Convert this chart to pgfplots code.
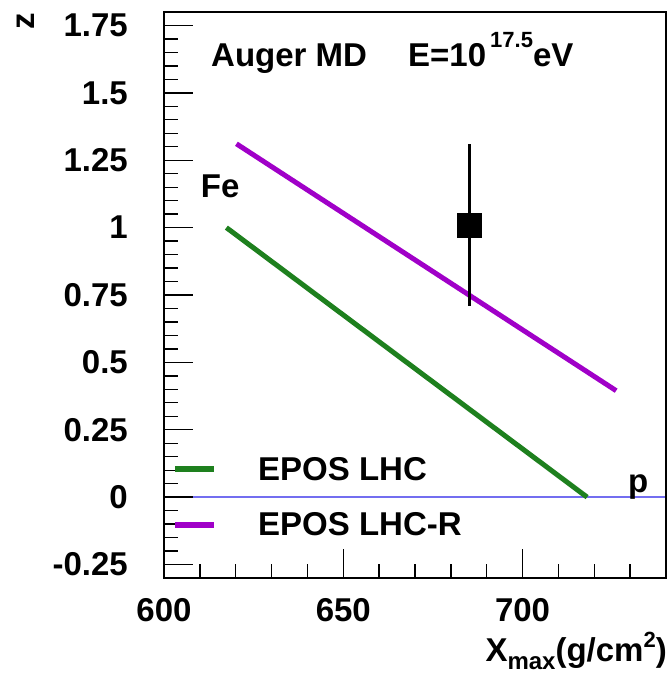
\documentclass[border=0pt]{standalone}
\usepackage{fontspec}
\setmainfont{Liberation Sans}
\usepackage{pgfplots}
\pgfplotsset{compat=1.18}
\definecolor{eposg}{RGB}{30,128,30}
\definecolor{eposr}{RGB}{160,0,200}
\definecolor{zline}{RGB}{115,110,240}
\newcommand\bigf{\fontsize{33}{40}\selectfont\bfseries}
\begin{document}
\begin{tikzpicture}
\path[use as bounding box] (-164pt,-99pt) rectangle (503pt,578pt);
\begin{axis}[
  at={(0pt,0pt)}, anchor=south west, scale only axis,
  width=502pt, height=566pt,
  xmin=600, xmax=740, ymin=-0.3, ymax=1.8,
  xtick={600,650,700}, xticklabels={600,650,700},
  minor xtick={610,620,630,640,660,670,680,690,710,720,730},
  ytick={-0.25,0,0.25,0.5,0.75,1,1.25,1.5,1.75},
  yticklabels={-0.25,0,0.25,0.5,0.75,1,1.25,1.5,1.75},
  minor y tick num=4,
  tick align=inside, xtick pos=bottom, ytick pos=left,
  major tick length=29pt, minor tick length=14pt,
  tick style={black, line width=1.3pt},
  axis line style={line width=2.5pt},
  ticklabel style={font=\bigf},
  yticklabel style={anchor=east, inner sep=0pt, xshift=-36pt},
  xticklabel style={anchor=north, inner sep=0pt, yshift=-20pt},
  axis on top,
  legend style={at={(0.01,0.2173)}, anchor=north west, draw=none, fill=none,
    font=\bigf, nodes={inner sep=0pt}, row sep=31pt, column sep=41pt},
  legend cell align=left,
  legend image code/.code={\draw[#1, line width=6pt] (0pt,0pt) -- (39pt,0pt);},
]
\addplot[forget plot, zline, line width=1.4pt] coordinates {(600,0) (740,0)};
\addplot[eposg, line width=5pt] coordinates {(617.4,1.0) (718.0,0.0)};
\addlegendentry{EPOS LHC}
\addplot[eposr, line width=5pt] coordinates {(620.2,1.311) (726.1,0.395)};
\addlegendentry{EPOS LHC-R}
\addplot[forget plot, black, only marks, mark=square*, mark size=12pt,
  error bars/.cd, y dir=both, y explicit, error mark=none,
  error bar style={line width=3pt, black}]
  coordinates {(685.2,1.01) +- (0,0.30)};
\end{axis}
\node[anchor=base west, inner sep=0pt, font=\bigf] at (47pt,511pt) {Auger MD};
\node[anchor=base west, inner sep=0pt, font=\bigf] at (244pt,511pt)
  {E=10\hspace{4pt}\raisebox{19pt}{\fontsize{22}{22}\selectfont 17.5}eV};
\node[anchor=base west, inner sep=0pt, font=\bigf] at (36.7pt,380pt) {Fe};
\node[anchor=base west, inner sep=0pt, font=\bigf] at (464pt,85pt) {p};
\node[rotate=90, inner sep=0pt, font=\bigf] at (-138pt,557pt) {z};
\node[anchor=base east, inner sep=0pt, font=\bigf] at (503pt,-83pt)
  {X\raisebox{-8pt}{\fontsize{24}{24}\selectfont max}(g/cm\raisebox{14pt}{\fontsize{22}{22}\selectfont 2})};
\end{tikzpicture}
\end{document}
